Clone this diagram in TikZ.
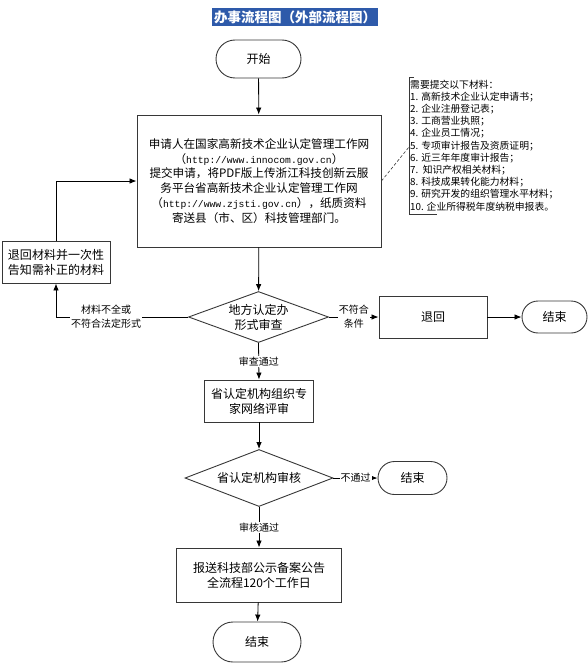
\documentclass[tikz,border=0pt]{standalone}
\usepackage{fontspec}
\setmainfont{Noto Sans CJK SC}
\newfontfamily\urlfont{Liberation Mono}
\usetikzlibrary{shapes.geometric,shapes.misc,arrows.meta}
\definecolor{titleblue}{RGB}{46,90,170}
\definecolor{linegray}{RGB}{55,55,55}
\newcommand\myurl{\urlfont\fontsize{9.7}{14.8}\selectfont}
\begin{document}
\begin{tikzpicture}[x=1pt,y=-1pt,
  box/.style={draw=linegray, line width=0.9pt, fill=white, align=center, inner sep=0pt, font=\fontsize{12}{15}\selectfont},
  term/.style={draw=linegray, rounded rectangle, line width=0.9pt, inner sep=0pt, font=\fontsize{12}{15}\selectfont},
  dec/.style={draw=linegray, diamond, line width=0.9pt, inner sep=0pt, align=center, font=\fontsize{12}{15}\selectfont},
  arr/.style={-{Latex[length=7pt,width=5.5pt]}, line width=0.8pt},
  lab/.style={fill=white, inner sep=1pt, align=center, font=\fontsize{10}{14}\selectfont}
]
\useasboundingbox (0,0) rectangle (588,666);
% title
\node[fill=titleblue, text=white, font=\fontsize{13.5}{15}\selectfont\bfseries, minimum width=166pt, minimum height=18pt, inner sep=0pt] (title) at (295,17) {办事流程图（外部流程图）};
% nodes
\node[term, minimum width=85pt, minimum height=38pt] (start) at (258.5,59) {开始};
\node[box, minimum width=244pt, minimum height=132pt, font=\fontsize{11.6}{14.8}\selectfont] (main) at (259,181)
  {申请人在国家高新技术企业认定管理工作网\\（{\myurl http://www.innocom.gov.cn}）\\提交申请，将PDF版上传浙江科技创新云服\\务平台省高新技术企业认定管理工作网\\（{\myurl http://www.zjsti.gov.cn}），纸质资料\\寄送县（市、区）科技管理部门。};
\node[anchor=north west, inner sep=0pt, align=left, font=\fontsize{9.8}{12.2}\selectfont] (note) at (410,79.5)
  {需要提交以下材料：\\1. 高新技术企业认定申请书；\\2. 企业注册登记表；\\3. 工商营业执照；\\4. 企业员工情况；\\5. 专项审计报告及资质证明；\\6. 近三年年度审计报告；\\7.\ \ 知识产权相关材料；\\8. 科技成果转化能力材料；\\9. 研究开发的组织管理水平材料；\\10. 企业所得税年度纳税申报表。};
\draw[linegray, line width=0.8pt] (414,77) -- (409,77) -- (409,214) -- (437,214);
\coordinate (nb) at (409,147);
\draw[linegray, line width=0.6pt, dash pattern=on 3pt off 2pt] (main.east) -- (nb);
\node[box, minimum width=108pt, minimum height=42pt] (back) at (56,262) {退回材料并一次性\\告知需补正的材料};
\node[dec, shape aspect=2.75, minimum width=140pt, minimum height=51pt] (d1) at (258.5,317) {地方认定办\\形式审查};
\node[box, minimum width=108pt, minimum height=42pt] (ret) at (433,317) {退回};
\node[term, minimum width=65pt, minimum height=32pt] (end1) at (554.5,317) {结束};
\node[box, minimum width=109pt, minimum height=42pt] (expert) at (259,401) {省认定机构组织专\\家网络评审};
\node[dec, shape aspect=2.6, minimum width=148pt, minimum height=57pt] (d2) at (259,478) {省认定机构审核};
\node[term, minimum width=69pt, minimum height=33pt] (end2) at (412.5,478) {结束};
\node[box, minimum width=165pt, minimum height=54pt] (final) at (259,575) {报送科技部公示备案公告\\全流程120个工作日};
\node[term, minimum width=88pt, minimum height=40pt] (end3) at (257,642) {结束};
% connectors
\draw[arr] (start) -- (main);
\draw[arr] (main) -- (d1);
\draw[arr] (d1.east) -- node[lab] {不符合\\条件} (ret.west);
\draw[arr] (ret) -- (end1);
\draw[arr] (d1.south) -- node[lab] {审查通过} (expert.north);
\draw[arr] (expert) -- (d2);
\draw[arr] (d2.east) -- node[lab] {不通过} (end2.west);
\draw[arr] (d2.south) -- node[lab] {审核通过} (final.north);
\draw[arr] (final) -- (end3);
\draw[arr] (d1.west) -| node[lab, pos=0.31] {材料不全或\\不符合法定形式} (back.south);
\draw[arr] (back.north) |- (main.west);
\end{tikzpicture}
\end{document}
